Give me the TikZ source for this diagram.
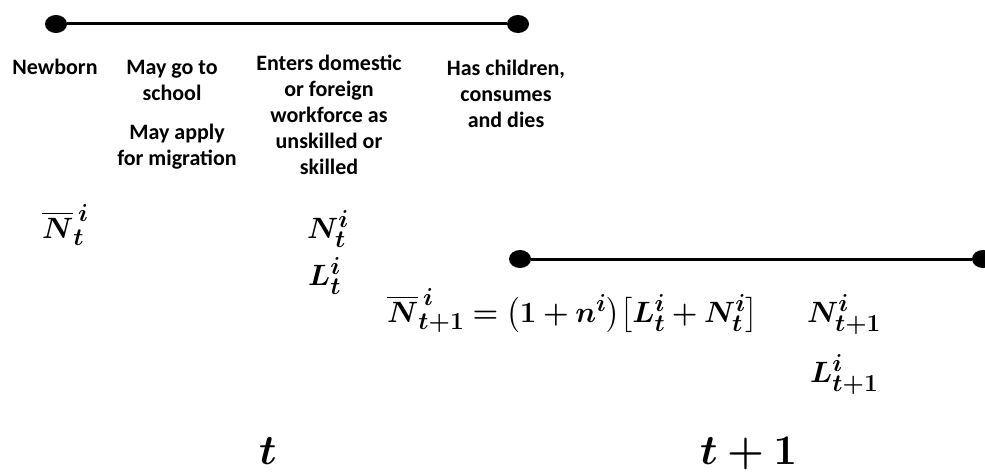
\documentclass[tikz,border=0pt]{standalone}
\usepackage{amsmath}
\usepackage{bm}
\usepackage{graphicx}
\usepackage{fontspec}
\setmainfont{Carlito}
\newsavebox\eqbox
\newsavebox\tbox
\tikzset{
  lbl/.style={font=\fontsize{22}{26}\selectfont\bfseries, align=center, inner sep=0pt},
  mth/.style={font=\fontsize{24.88}{30}\selectfont, inner sep=0pt, anchor=base west},
  dotc/.style={ellipse, fill=black, minimum width=22pt, minimum height=18pt, inner sep=0pt},
  tline/.style={line width=3pt}
}
\usetikzlibrary{shapes.geometric}
\newcommand{\EqText}{$\bm{\overline{N}_{t+1}^{\,i} = \bigl(1+n^i\bigr)\bigl[L_t^i+N_t^i\bigr]}$}
\newcommand{\TText}{$\bm{t+1}$}
\begin{document}
\begin{tikzpicture}[x=1pt,y=-1pt]
\sbox\eqbox{\fontsize{24.88}{30}\selectfont\EqText}
\sbox\tbox{\fontsize{24.88}{30}\selectfont\TText}
\pgfmathsetmacro\ms{371/\wd\eqbox}
\pgfmathsetmacro\bs{97/\wd\tbox}
\useasboundingbox (0,0) rectangle (985,476);
% top timeline
\node[dotc] (a1) at (56,24) {};
\node[dotc] (a2) at (518,24) {};
\draw[tline] (a1) -- (a2);
% second timeline
\node[dotc] (b1) at (520,259) {};
\node[dotc] (b2) at (983,259) {};
\draw[tline] (b1) -- (b2);
% labels
\node[lbl, anchor=base] (newborn) at (55,75) {Newborn};
\node[lbl, anchor=north] (school) at (172,60) {May go to\\school};
\node[lbl, anchor=north] (migr) at (177,124) {May apply\\for migration};
\node[lbl, anchor=north] (enter) at (329,55) {Enters domestic\\or foreign\\workforce as\\unskilled or\\skilled};
\node[lbl, anchor=north] (has) at (506,60) {Has children,\\consumes\\and dies};
% math
\node[mth] (nbar) at (42,238) {\scalebox{\ms}{$\bm{\overline{N}_t^{\,i}}$}};
\node[mth] (nt) at (307,238) {\scalebox{\ms}{$\bm{N_t^i}$}};
\node[mth] (lt) at (308,285) {\scalebox{\ms}{$\bm{L_t^i}$}};
\node[mth] (eq) at (387,322) {\scalebox{\ms}{\EqText}};
\node[mth] (nt1) at (807,322) {\scalebox{\ms}{$\bm{N_{t+1}^i}$}};
\node[mth] (lt1) at (810,382) {\scalebox{\ms}{$\bm{L_{t+1}^i}$}};
\node[mth] (t) at (259,464) {\scalebox{\bs}{$\bm{t}$}};
\node[mth] (t1) at (700,464) {\scalebox{\bs}{\TText}};
\end{tikzpicture}
\end{document}
